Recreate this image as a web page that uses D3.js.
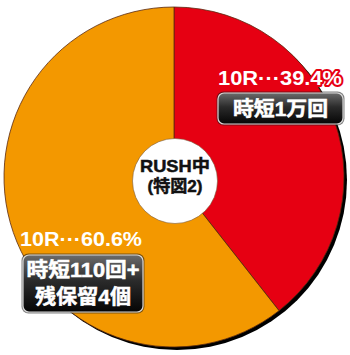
<!DOCTYPE html>
<html>
<head>
<meta charset="utf-8">
<script src="https://cdn.jsdelivr.net/npm/d3@7"></script>
<style>
  html, body { margin: 0; padding: 0; background: #fff; }
  svg { display: block; }
  text { font-family: "Liberation Sans", "Noto Sans CJK JP", sans-serif; font-weight: 700; }
</style>
</head>
<body>
<svg id="chart" width="350" height="355"></svg>
<script>
// Distribution of rounds while in RUSH (special pattern 2)
const rounds = ["10R", "10R"];
const shares = [39.4, 60.6];
const sliceColors = ["#E60012", "#F39800"];
const outlineColors = ["#E60012", "#F39800"];
const modeLines = [["時短1万回"], ["時短110回+", "残保留4個"]];
const centerLines = ["RUSH中", "(特図2)"];

const svg = d3.select("#chart");
const cx = 174, cy = 177, R = 170;

const defs = svg.append("defs");
const grad = defs.append("linearGradient")
  .attr("id", "boxGrad").attr("x1", 0).attr("y1", 0).attr("x2", 0).attr("y2", 1);
grad.append("stop").attr("offset", "0%").attr("stop-color", "#6b6b6b");
grad.append("stop").attr("offset", "45%").attr("stop-color", "#2b2b2b");
grad.append("stop").attr("offset", "100%").attr("stop-color", "#050505");

// Drop shadow behind the pie
svg.append("circle")
  .attr("cx", cx + 3).attr("cy", cy + 3).attr("r", R)
  .attr("fill", "#000");

const pie = d3.pie().sort(null).value(d => d)(shares);
const arc = d3.arc().innerRadius(0).outerRadius(R);

const g = svg.append("g").attr("transform", `translate(${cx},${cy})`);
g.selectAll("path.slice")
  .data(pie)
  .join("path")
  .attr("class", "slice")
  .attr("d", arc)
  .attr("fill", (d, i) => sliceColors[i])
  .attr("stroke", "#5a2a10")
  .attr("stroke-width", 0.8);

// Center disc
svg.append("circle")
  .attr("cx", cx + 1).attr("cy", cy + 4).attr("r", 42.5)
  .attr("fill", "#fff")
  .attr("stroke", "#7a5a3a").attr("stroke-width", 0.6);

const centerLen = [70, 55];
svg.append("g").selectAll("text")
  .data(centerLines)
  .join("text")
  .attr("x", cx + 1)
  .attr("y", (d, i) => 172 + i * 20)
  .attr("text-anchor", "middle")
  .attr("font-size", 17)
  .attr("textLength", (d, i) => centerLen[i])
  .attr("lengthAdjust", "spacingAndGlyphs")
  .attr("fill", "#111")
  .attr("stroke", "#111")
  .attr("stroke-width", 0.5)
  .text(d => d);

// Percentage labels
const pctPos = [{x: 280, y: 85, w: 124}, {x: 81, y: 246, w: 122}];
svg.append("g").selectAll("text")
  .data(shares)
  .join("text")
  .attr("x", (d, i) => pctPos[i].x)
  .attr("y", (d, i) => pctPos[i].y)
  .attr("text-anchor", "middle")
  .attr("font-size", 21)
  .attr("textLength", (d, i) => pctPos[i].w)
  .attr("lengthAdjust", "spacingAndGlyphs")
  .attr("fill", "#fff")
  .attr("stroke", (d, i) => outlineColors[i])
  .attr("stroke-width", 4)
  .attr("stroke-linejoin", "round")
  .attr("paint-order", "stroke")
  .text((d, i) => `${rounds[i]}···${d.toFixed(1)}%`);

// Mode boxes
const boxPos = [
  {x: 218, y: 93, w: 125, h: 31, tx: 280.5, ty: 116, lh: 0, tl: [95]},
  {x: 23, y: 255, w: 120, h: 57, tx: 83, ty: 277, lh: 26.5, tl: [113, 96]}
];
const boxes = svg.append("g").selectAll("g")
  .data(modeLines)
  .join("g");
boxes.append("rect")
  .attr("x", (d, i) => boxPos[i].x - 1.5)
  .attr("y", (d, i) => boxPos[i].y - 1.5)
  .attr("width", (d, i) => boxPos[i].w + 3)
  .attr("height", (d, i) => boxPos[i].h + 3)
  .attr("rx", 7)
  .attr("fill", "#1a1a1a")
  .attr("opacity", 0.55);
boxes.append("rect")
  .attr("x", (d, i) => boxPos[i].x)
  .attr("y", (d, i) => boxPos[i].y)
  .attr("width", (d, i) => boxPos[i].w)
  .attr("height", (d, i) => boxPos[i].h)
  .attr("rx", 6)
  .attr("fill", "url(#boxGrad)")
  .attr("stroke", "#d8d8d8")
  .attr("stroke-width", 1.2);
boxes.each(function(lines, i) {
  const p = boxPos[i];
  d3.select(this).selectAll("text")
    .data(lines)
    .join("text")
    .attr("x", p.tx)
    .attr("y", (d, j) => p.ty + j * p.lh)
    .attr("text-anchor", "middle")
    .attr("font-size", 20)
    .attr("textLength", (d, j) => p.tl[j])
    .attr("lengthAdjust", "spacingAndGlyphs")
    .attr("fill", "#fff")
    .attr("stroke", "#fff")
    .attr("stroke-width", 0.5)
    .text(d => d);
});
</script>
</body>
</html>
